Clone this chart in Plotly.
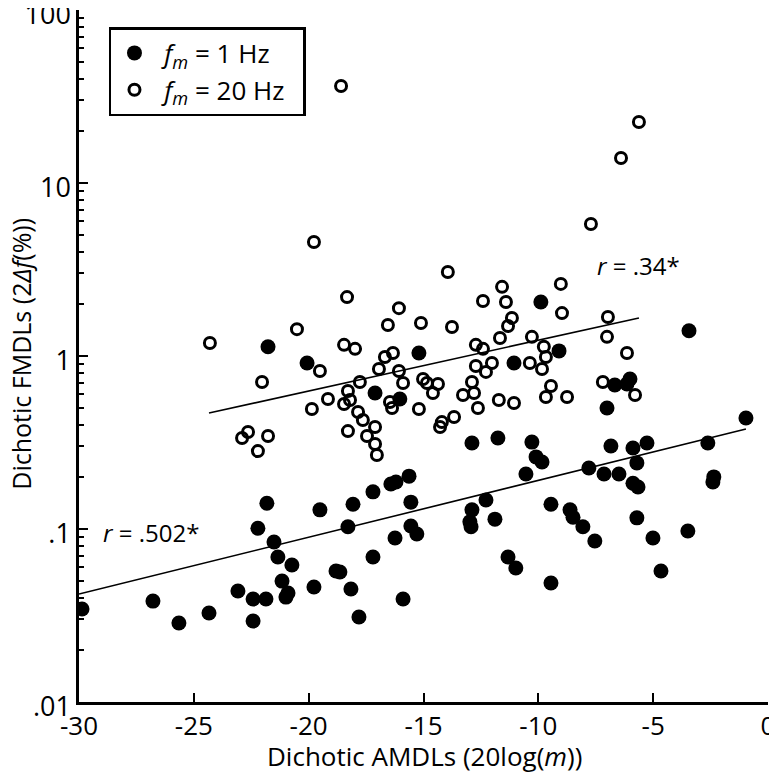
import plotly.graph_objects as go

# ---- data: f_m = 20 Hz (open circles) ----
x_20hz = [-18.59, -5.62, -6.40, -7.71, -19.77, -13.94, -18.33, -12.41, -11.58, -11.41,
          -16.07, -16.55, -15.11, -13.76, -11.15, -11.32, -20.51, -11.67, -10.28, -18.46,
          -17.98, -12.72, -12.41, -16.68, -16.33, -12.02, -10.37, -12.72, -19.51, -16.94,
          -16.07, -12.28, -17.77, -12.89, -15.02, -14.85, -15.89, -14.37, -18.29, -14.59,
          -13.28, -12.80, -19.16, -18.46, -18.20, -16.46, -16.37, -12.63, -11.72, -11.06,
          -19.86, -15.20, -17.85, -17.64, -14.20, -13.67, -14.28, -18.29, -17.11, -17.46,
          -17.11, -17.03, -24.30, -22.03, -22.64, -22.90, -21.77, -22.21, -9.02, -8.97,
          -6.97, -7.01, -9.76, -9.67, -9.84, -6.14, -7.19, -9.45, -9.67, -8.75, -5.79]
y_20hz = [36.4, 22.5, 13.96, 5.79, 4.56, 3.06, 2.19, 2.08, 2.51, 2.05,
          1.89, 1.51, 1.55, 1.47, 1.66, 1.49, 1.43, 1.27, 1.29, 1.16,
          1.10, 1.16, 1.10, 0.987, 1.04, 0.911, 0.911, 0.875, 0.819, 0.841,
          0.819, 0.809, 0.708, 0.708, 0.736, 0.698, 0.698, 0.689, 0.628, 0.611,
          0.595, 0.611, 0.564, 0.528, 0.557, 0.542, 0.501, 0.501, 0.557, 0.535,
          0.494, 0.494, 0.475, 0.427, 0.415, 0.444, 0.389, 0.368, 0.389, 0.345,
          0.310, 0.268, 1.19, 0.708, 0.364, 0.336, 0.345, 0.282, 2.61, 1.77,
          1.68, 1.29, 1.13, 0.987, 0.841, 1.04, 0.708, 0.671, 0.580, 0.580, 0.595]

# ---- data: f_m = 1 Hz (filled circles) ----
x_1hz = [-29.87, -26.78, -25.65, -24.34, -23.08, -22.42, -21.86, -22.42, -22.21, -21.82,
         -21.51, -21.34, -20.73, -21.16, -20.90, -20.99, -19.77, -19.51, -18.07, -18.29,
         -17.20, -16.42, -16.20, -15.63, -15.55, -15.55, -15.29, -16.24, -17.20, -18.81,
         -18.64, -18.16, -17.81, -15.89, -12.89, -11.76, -10.28, -10.10, -9.84, -10.54,
         -12.28, -12.89, -12.98, -12.93, -11.89, -11.32, -10.98, -21.77, -20.07, -15.20,
         -17.11, -16.03, -11.06, -9.89, -3.44, -9.10, -6.67, -6.01, -6.14, -7.01,
         -6.84, -5.88, -5.27, -2.62, -0.96, -7.80, -7.14, -6.49, -5.71, -5.88,
         -5.66, -2.36, -2.40, -9.45, -8.62, -8.49, -8.06, -7.54, -5.71, -5.01,
         -3.49, -4.66, -9.45]
y_1hz = [0.0345, 0.0383, 0.0286, 0.0327, 0.0438, 0.0394, 0.0394, 0.0294, 0.101, 0.141,
         0.0841, 0.0689, 0.0619, 0.0500, 0.0427, 0.0404, 0.0462, 0.129, 0.139, 0.103,
         0.164, 0.182, 0.187, 0.202, 0.143, 0.104, 0.0935, 0.0887, 0.0689, 0.0572,
         0.0564, 0.0450, 0.0310, 0.0394, 0.314, 0.336, 0.318, 0.261, 0.244, 0.208,
         0.147, 0.129, 0.110, 0.103, 0.114, 0.0689, 0.0595, 1.13, 0.911, 1.04,
         0.611, 0.564, 0.911, 2.05, 1.40, 1.07, 0.680, 0.736, 0.689, 0.501,
         0.302, 0.294, 0.314, 0.314, 0.438, 0.225, 0.208, 0.208, 0.241, 0.184,
         0.175, 0.200, 0.187, 0.139, 0.129, 0.117, 0.103, 0.0853, 0.116, 0.0887,
         0.0973, 0.0572, 0.0487]

# ---- regression lines (end points) ----
fit_1hz_x = [-30.0, -0.96]
fit_1hz_y = [0.0421, 0.378]
fit_20hz_x = [-24.34, -5.62]
fit_20hz_y = [0.468, 1.659]

# ---- tick labels ----
x_ticks = [-30, -25, -20, -15, -10, -5, 0]
y_ticks = [0.01, 0.1, 1, 10, 100]
y_ticklabels = [".01", ".1", "1", "10", "100"]

FONT = "Open Sans"

fig = go.Figure()
fig.add_trace(go.Scatter(x=fit_1hz_x, y=fit_1hz_y, mode="lines",
                         line=dict(color="black", width=1.6), showlegend=False, hoverinfo="skip"))
fig.add_trace(go.Scatter(x=fit_20hz_x, y=fit_20hz_y, mode="lines",
                         line=dict(color="black", width=1.6), showlegend=False, hoverinfo="skip"))
fig.add_trace(go.Scatter(x=x_20hz, y=y_20hz, mode="markers",
                         name=" <i>f</i><sub><i>m</i></sub> = 20 Hz  ",
                         marker=dict(symbol="circle-open", size=11, color="black",
                                     line=dict(width=3, color="black"))))
fig.add_trace(go.Scatter(x=x_1hz, y=y_1hz, mode="markers",
                         name=" <i>f</i><sub><i>m</i></sub> = 1 Hz",
                         marker=dict(symbol="circle", size=15, color="black",
                                     line=dict(width=0))))

minor_y = [m * 10.0 ** k for k in range(-2, 2) for m in range(2, 10)]

# the page body adds an 8 px offset; margins compensate for it
fig.update_layout(
    width=777, height=776,
    margin=dict(l=71, r=17, t=2, b=82, autoexpand=False),
    plot_bgcolor="white", paper_bgcolor="white",
    font=dict(family=FONT, size=24, color="black"),
    showlegend=True,
    legend=dict(x=0.0435, y=0.9754, xanchor="left", yanchor="top",
                bordercolor="black", borderwidth=2.5, bgcolor="white",
                font=dict(size=26), traceorder="reversed",
                itemwidth=36, tracegroupgap=0),
    annotations=[
        dict(x=-29.05, y=-1.023, xref="x", yref="y", text="<i>r</i> = .502*",
             showarrow=False, xanchor="left", yanchor="middle", font=dict(size=24)),
        dict(x=-7.53, y=0.525, xref="x", yref="y", text="<i>r</i> = .34*",
             showarrow=False, xanchor="left", yanchor="middle", font=dict(size=24)),
        # axis titles
        dict(x=0.502, y=-0.0775, xref="paper", yref="paper",
             text="Dichotic AMDLs (20log(<i>m</i>))", showarrow=False,
             xanchor="center", yanchor="middle", font=dict(size=26)),
        dict(x=-0.0845, y=0.503, xref="paper", yref="paper", textangle=-90,
             text="Dichotic FMDLs (2<i>Δf</i>(%))", showarrow=False,
             xanchor="center", yanchor="middle", font=dict(size=25)),
    ],
)
fig.update_xaxes(
    range=[-30, 0], tickvals=x_ticks, ticktext=[str(v) for v in x_ticks],
    ticks="inside", ticklen=9, tickwidth=2, tickcolor="black",
    ticklabeloverflow="allow", ticklabelstandoff=-1,
    tickfont=dict(size=26), automargin=False,
    showline=True, linewidth=2.5, linecolor="black", mirror=False,
    showgrid=False, zeroline=False,
)
fig.update_yaxes(
    type="log", range=[-2, 2], tickvals=y_ticks, ticktext=y_ticklabels,
    ticks="inside", ticklen=9, tickwidth=2, tickcolor="black",
    ticklabeloverflow="allow", ticklabelshift=5, automargin=False,
    tickfont=dict(size=27),
    minor=dict(tickvals=minor_y, ticks="inside", ticklen=5, tickwidth=1.5,
               tickcolor="black", showgrid=False),
    showline=True, linewidth=2.5, linecolor="black", mirror=False,
    showgrid=False, zeroline=False,
)

fig.write_html("out.html")
